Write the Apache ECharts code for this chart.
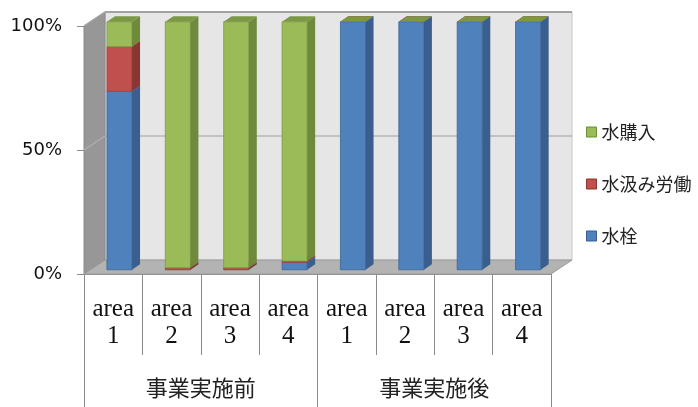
<!DOCTYPE html>
<html><head><meta charset="utf-8">
<script src="https://cdn.jsdelivr.net/npm/echarts@6/dist/echarts.min.js"></script>
<style>html,body{margin:0;padding:0;background:#fff}#c{width:698px;height:407px}</style>
</head><body><div id="c"></div>
<script>
// ---- data ----
const categories = ['area\n1','area\n2','area\n3','area\n4','area\n1','area\n2','area\n3','area\n4'];
const groups = ['事業実施前','事業実施後'];
const yTicks = [0, 50, 100];
const tapValues   = [72, 0, 0, 3, 100, 100, 100, 100];     // 水栓
const laborValues = [18, 0.8, 0.8, 0.5, 0, 0, 0, 0];        // 水汲み労働
const buyValues   = [10, 99.2, 99.2, 96.5, 0, 0, 0, 0];     // 水購入

// ---- build stacked ranges ----
function ranges(vals, base){ return vals.map((v,i)=>[i, base[i], base[i]+v]); }
const zero = categories.map(()=>0);
const tapR = ranges(tapValues, zero);
const b1 = tapValues.map((v,i)=>v);
const laborR = ranges(laborValues, b1);
const b2 = b1.map((v,i)=>v+laborValues[i]);
const buyR = ranges(buyValues, b2);

// style constants
const DEPTH = [21, -14];          // wall depth offset
const FRONT = [0.3, 0.3];         // bar front at fraction of depth
const BARD = [8, -5.5];           // bar depth
const BARW = 0.43;                // bar width fraction of band

function segRenderer(c){
  return function(params, api){
    const idx = api.value(0), lo = api.value(1), hi = api.value(2);
    const p0 = api.coord([idx, lo]), p1 = api.coord([idx, hi]);
    const band = api.size([1, 0])[0];
    const bw = band * BARW;
    const fx = DEPTH[0]*FRONT[0], fy = DEPTH[1]*FRONT[1];
    const x0 = p0[0] + fx - bw/2, x1 = x0 + bw;
    const yb = p0[1] + fy, yt = p1[1] + fy;
    const dx = BARD[0], dy = BARD[1];
    return {type:'group', children:[
      {type:'rect', shape:{x:x0, y:yt, width:bw, height:yb-yt}, style:{fill:c.front, stroke:c.edge, lineWidth:(yb-yt)>1?0.8:0}},
      {type:'polygon', shape:{points:[[x1,yb],[x1+dx,yb+dy],[x1+dx,yt+dy],[x1,yt]]}, style:{fill:c.side}},
      {type:'polygon', shape:{points:[[x0,yt],[x1,yt],[x1+dx,yt+dy],[x0+dx,yt+dy]]}, style:{fill:c.top}}
    ]};
  };
}

function wallsRenderer(params, api){
  const cs = params.coordSys;
  const L = cs.x, R = cs.x + cs.width, T = cs.y, B = cs.y + cs.height;
  const dx = DEPTH[0], dy = DEPTH[1];
  const mid = api.coord([0, 50])[1];
  return {type:'group', children:[
    {type:'rect', shape:{x:L+dx, y:T+dy, width:cs.width, height:cs.height}, style:{fill:'#e6e6e6', stroke:'#c8c8c8', lineWidth:1}},
    {type:'polygon', shape:{points:[[L,T],[L+dx,T+dy],[L+dx,B+dy],[L,B]]}, style:{fill:'#979797', stroke:'#8a8a8a', lineWidth:1}},
    {type:'polygon', shape:{points:[[L,B],[R,B],[R+dx,B+dy],[L+dx,B+dy]]}, style:{fill:'#b3b3b3', stroke:'#9a9a9a', lineWidth:1}},
    {type:'line', shape:{x1:L+dx, y1:mid+dy, x2:R+dx, y2:mid+dy}, style:{stroke:'#9e9e9e', lineWidth:1.2}},
    {type:'line', shape:{x1:L, y1:mid, x2:L+dx, y2:mid+dy}, style:{stroke:'#b8b8b8', lineWidth:1}},
    {type:'line', shape:{x1:L+dx, y1:T+dy, x2:R+dx, y2:T+dy}, style:{stroke:'#a3a3a3', lineWidth:2}},
    {type:'line', shape:{x1:L, y1:T, x2:L+dx, y2:T+dy}, style:{stroke:'#a3a3a3', lineWidth:1.5}}
  ]};
}

const colors = {
  tap:   {front:'#4f81bd', side:'#3a5f8e', top:'#4674ab', edge:'#3d6596'},
  labor: {front:'#c0504d', side:'#893533', top:'#a24542', edge:'#9a3d3a'},
  buy:   {front:'#9bbb59', side:'#6e8a3a', top:'#7b9845', edge:'#7d9a45'}
};

const chart = echarts.init(document.getElementById('c'), null, {renderer:'canvas'});
chart.setOption({
  animation:false,
  backgroundColor:'#fff',
  grid:{left:84, top:26, width:467, height:248},
  legend:{
    orient:'vertical', left:581, top:117, itemGap:32, itemWidth:10, itemHeight:10, icon:'rect',
    selectedMode:false,
    textStyle:{fontFamily:'Noto Sans CJK JP', fontSize:18, color:'#222', lineHeight:20},
    data:[
      {name:'水購入', itemStyle:{color:colors.buy.front, borderColor:colors.buy.side, borderWidth:1}},
      {name:'水汲み労働', itemStyle:{color:colors.labor.front, borderColor:colors.labor.side, borderWidth:1}},
      {name:'水栓', itemStyle:{color:colors.tap.front, borderColor:colors.tap.side, borderWidth:1}}
    ]
  },
  xAxis:[{
    type:'category', data:categories, position:'bottom',
    axisLine:{show:true, lineStyle:{color:'#8a8a8a'}},
    axisTick:{show:true, interval:0, length:81, lineStyle:{color:'#8a8a8a'}},
    axisLabel:{interval:0, margin:22, fontFamily:'Liberation Serif', fontSize:25, lineHeight:27, color:'#111'}
  },{
    type:'category', data:groups, position:'bottom',
    axisLine:{show:false},
    axisTick:{show:true, interval:0, length:133, lineStyle:{color:'#8a8a8a'}},
    axisLabel:{interval:0, margin:103, fontFamily:'Noto Sans CJK JP', fontSize:22, color:'#222'}
  }],
  yAxis:{
    type:'value', min:0, max:100, interval:50,
    axisLine:{show:true, lineStyle:{color:'#8a8a8a'}},
    axisTick:{show:true, length:7, lineStyle:{color:'#8a8a8a'}},
    splitLine:{show:false},
    axisLabel:{margin:22, fontFamily:'DejaVu Sans', fontSize:18, color:'#111', formatter:v=>v+'%',
      customValues: yTicks}
  },
  series:[
    {type:'custom', name:'walls', silent:true, renderItem:wallsRenderer, data:[[0,0]], z:1},
    {type:'custom', name:'水栓', itemStyle:{color:colors.tap.front}, renderItem:segRenderer(colors.tap), data:tapR, encode:{x:0,y:[1,2]}, z:2},
    {type:'custom', name:'水汲み労働', itemStyle:{color:colors.labor.front}, renderItem:segRenderer(colors.labor), data:laborR, encode:{x:0,y:[1,2]}, z:2},
    {type:'custom', name:'水購入', itemStyle:{color:colors.buy.front}, renderItem:segRenderer(colors.buy), data:buyR, encode:{x:0,y:[1,2]}, z:2}
  ]
});
</script></body></html>
